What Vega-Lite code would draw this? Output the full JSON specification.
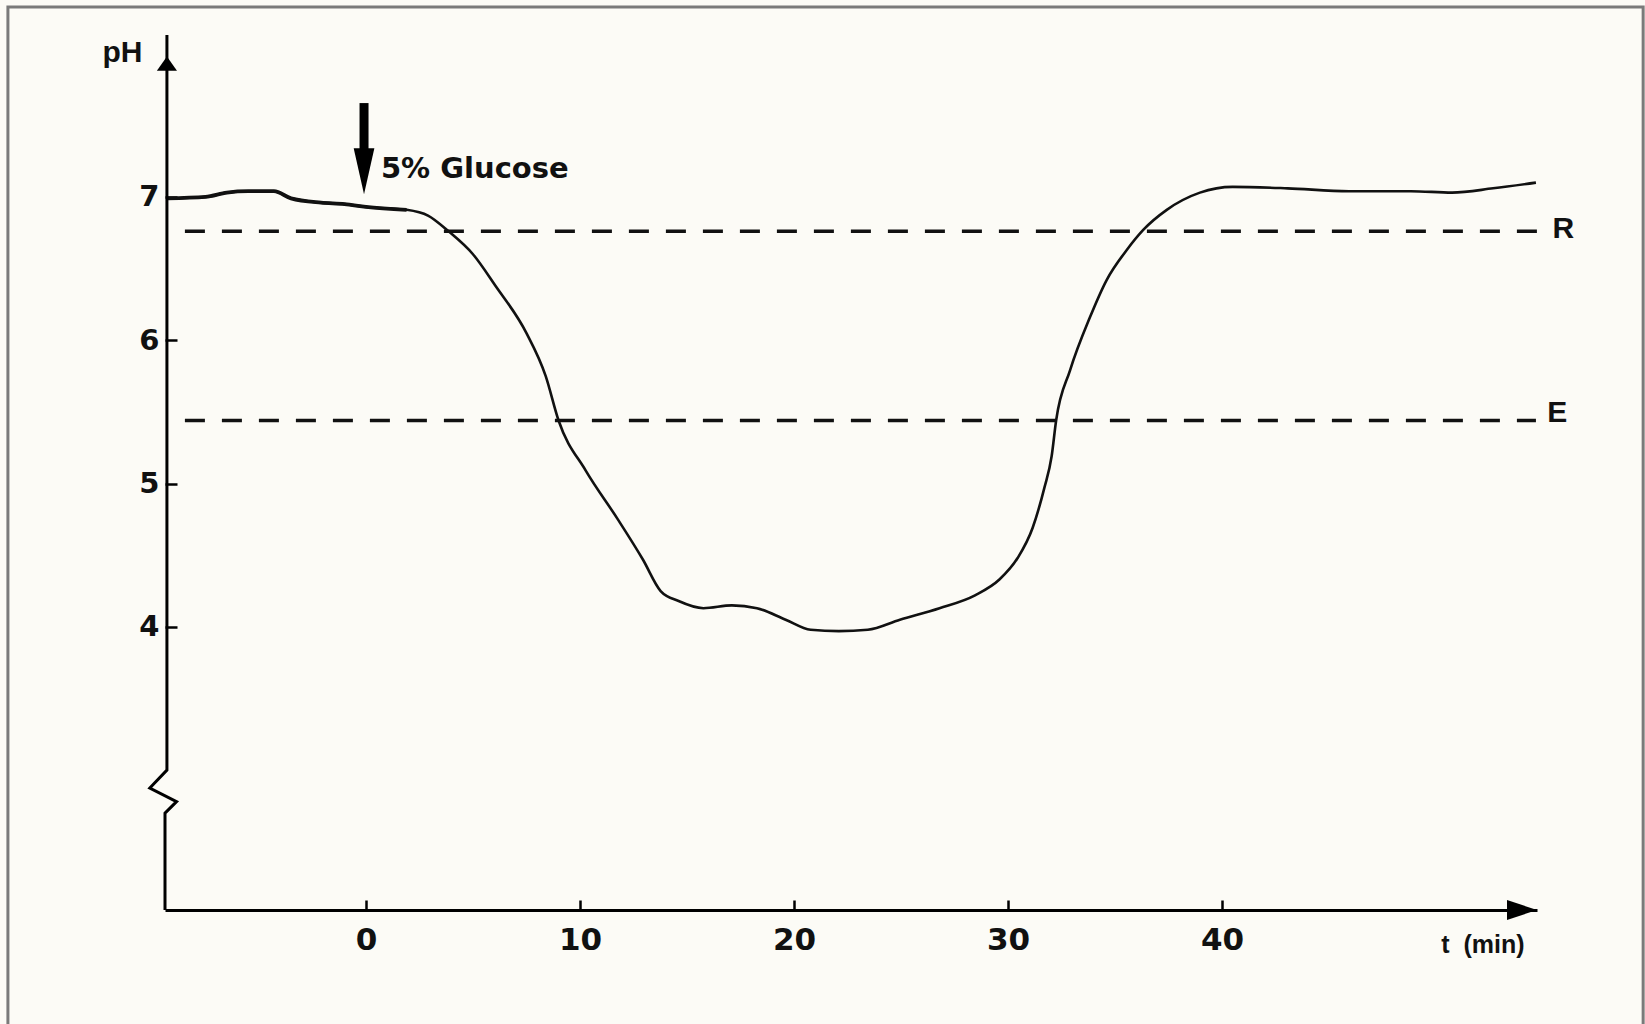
{
  "$schema": "https://vega.github.io/schema/vega-lite/v6.json",
  "width": 1372,
  "height": 875,
  "autosize": "none",
  "padding": {"left": 165, "top": 35, "right": 108, "bottom": 114},
  "background": "#fcfbf6",
  "config": {"view": {"stroke": null}},
  "datasets": {
    "curve": [
      {"t": -9.3, "pH": 6.99}, {"t": -7.5, "pH": 7.0}, {"t": -6.5, "pH": 7.03}, {"t": -5.5, "pH": 7.04},
      {"t": -4.3, "pH": 7.04}, {"t": -3.5, "pH": 6.99}, {"t": -2.1, "pH": 6.96}, {"t": -1.0, "pH": 6.95},
      {"t": 0, "pH": 6.93}, {"t": 1.9, "pH": 6.91}, {"t": 2.9, "pH": 6.87}, {"t": 3.86, "pH": 6.76},
      {"t": 5.0, "pH": 6.6}, {"t": 6.05, "pH": 6.38}, {"t": 7.5, "pH": 6.05}, {"t": 8.4, "pH": 5.75},
      {"t": 9.0, "pH": 5.44}, {"t": 10.27, "pH": 5.09}, {"t": 11.77, "pH": 4.75}, {"t": 12.94, "pH": 4.47},
      {"t": 13.77, "pH": 4.25}, {"t": 14.61, "pH": 4.18}, {"t": 15.77, "pH": 4.13}, {"t": 17.1, "pH": 4.15},
      {"t": 18.27, "pH": 4.13}, {"t": 19.61, "pH": 4.05}, {"t": 20.78, "pH": 3.98}, {"t": 22.1, "pH": 3.97},
      {"t": 23.45, "pH": 3.98}, {"t": 24.95, "pH": 4.05}, {"t": 26.8, "pH": 4.13}, {"t": 28.46, "pH": 4.22},
      {"t": 29.6, "pH": 4.33}, {"t": 30.45, "pH": 4.48}, {"t": 31.15, "pH": 4.69}, {"t": 31.7, "pH": 4.97},
      {"t": 32.04, "pH": 5.19}, {"t": 32.25, "pH": 5.44}, {"t": 32.9, "pH": 5.79}, {"t": 33.83, "pH": 6.16},
      {"t": 34.61, "pH": 6.42}, {"t": 35.55, "pH": 6.63}, {"t": 36.32, "pH": 6.77}, {"t": 37.42, "pH": 6.91},
      {"t": 38.97, "pH": 7.03}, {"t": 40.5, "pH": 7.07}, {"t": 43.07, "pH": 7.06}, {"t": 45.93, "pH": 7.04},
      {"t": 48.83, "pH": 7.04}, {"t": 50.75, "pH": 7.03}, {"t": 52.67, "pH": 7.06}, {"t": 54.67, "pH": 7.1}
    ],
    "yaxis": [
      {"ord": 1, "t": -9.3, "pH": 8.13},
      {"ord": 2, "t": -9.3, "pH": 3.0},
      {"ord": 3, "t": -10.1, "pH": 2.875},
      {"ord": 4, "t": -8.85, "pH": 2.78},
      {"ord": 5, "t": -9.39, "pH": 2.7},
      {"ord": 6, "t": -9.39, "pH": 2.024}
    ],
    "refs": [
      {"name": "R", "t": -8.46, "t2": 54.86, "pH": 6.76},
      {"name": "E", "t": -8.46, "t2": 54.67, "pH": 5.44}
    ],
    "reflabels": [
      {"name": "R", "t": 55.45, "pH": 6.776},
      {"name": "E", "t": 55.2, "pH": 5.49}
    ],
    "heads": [
      {"dir": "up", "t": -9.3, "pH": 7.93},
      {"dir": "right", "t": 54.02, "pH": 2.024}
    ],
    "glucose": [
      {"t": -0.09, "pH": 7.655, "pH2": 7.3, "headpH": 7.18, "label": "5% Glucose", "labelT": 0.7, "labelpH": 7.195}
    ],
    "frame": [
      {"t": -16.73, "t2": 59.68, "pH": 8.325, "pH2": 0.5}
    ]
  },
  "encoding": {
    "x": {
      "field": "t", "type": "quantitative",
      "scale": {"domain": [-9.39, 54.72], "nice": false, "zero": false},
      "axis": {
        "values": [0, 10, 20, 30, 40],
        "grid": false,
        "domain": true, "domainColor": "#000", "domainWidth": 3,
        "ticks": true, "tickSize": -10, "tickColor": "#000", "tickWidth": 2.5,
        "labelPadding": 25, "labelFont": "DejaVu Sans", "labelFontWeight": "bold", "labelFontSize": 31, "labelColor": "#111",
        "title": "t\u00a0\u00a0(min)", "titleFont": "Liberation Sans", "titleFontWeight": "bold", "titleFontSize": 25, "titleColor": "#111",
        "titleX": 1359, "titleY": 34, "titleAlign": "right", "titleBaseline": "middle", "titleAnchor": null
      }
    },
    "y": {
      "field": "pH", "type": "quantitative",
      "scale": {"domain": [2.024, 8.13], "nice": false, "zero": false},
      "axis": {
        "values": [4, 5, 6, 7],
        "grid": false,
        "domain": false,
        "ticks": true, "tickSize": -12, "tickColor": "#000", "tickWidth": 2.5,
        "labelPadding": 18, "labelFont": "DejaVu Sans", "labelFontWeight": "bold", "labelFontSize": 29, "labelColor": "#111",
        "title": "pH", "titleFont": "Liberation Sans", "titleFontWeight": "bold", "titleFontSize": 30, "titleColor": "#111",
        "titleAngle": 0, "titleX": -43, "titleY": 17, "titleAlign": "center", "titleBaseline": "middle", "titleAnchor": null
      }
    }
  },
  "layer": [
    {
      "data": {"name": "frame"},
      "mark": {"type": "rect", "fill": null, "stroke": "#7a7a7a", "strokeWidth": 3},
      "encoding": {"x2": {"field": "t2"}, "y2": {"field": "pH2"}}
    },
    {
      "data": {"name": "refs"},
      "mark": {"type": "rule", "color": "#111", "strokeWidth": 3.5, "strokeDash": [20, 17]},
      "encoding": {"x2": {"field": "t2"}}
    },
    {
      "data": {"name": "curve"},
      "mark": {"type": "line", "color": "#111", "strokeWidth": 2.6, "interpolate": "monotone"}
    },
    {
      "data": {"name": "curve"},
      "transform": [{"filter": "datum.t <= 1.9"}],
      "mark": {"type": "line", "color": "#111", "strokeWidth": 3.8, "interpolate": "monotone"}
    },
    {
      "data": {"name": "yaxis"},
      "mark": {"type": "line", "color": "#000", "strokeWidth": 3, "strokeJoin": "miter"},
      "encoding": {"order": {"field": "ord", "type": "quantitative"}}
    },
    {
      "data": {"name": "heads"},
      "mark": {"type": "point", "filled": true, "color": "#000", "opacity": 1, "size": 900},
      "encoding": {
        "shape": {
          "field": "dir", "type": "nominal", "legend": null,
          "scale": {"domain": ["up", "right"], "range": ["M-0.67,0.47L0.67,0.47L0,-0.47Z", "M-1,-0.67L1,0L-1,0.67Z"]}
        }
      }
    },
    {
      "data": {"name": "glucose"},
      "mark": {"type": "rule", "color": "#000", "strokeWidth": 9},
      "encoding": {"y2": {"field": "pH2"}}
    },
    {
      "data": {"name": "glucose"},
      "mark": {"type": "point", "filled": true, "color": "#000", "opacity": 1, "size": 2116, "shape": "M-0.45,-1L0.45,-1L0,1Z"},
      "encoding": {"y": {"field": "headpH", "type": "quantitative"}}
    },
    {
      "data": {"name": "glucose"},
      "mark": {"type": "text", "align": "left", "baseline": "middle", "font": "DejaVu Sans", "fontWeight": "bold", "fontSize": 29, "color": "#111"},
      "encoding": {
        "x": {"field": "labelT", "type": "quantitative"},
        "y": {"field": "labelpH", "type": "quantitative"},
        "text": {"field": "label"}
      }
    },
    {
      "data": {"name": "reflabels"},
      "mark": {"type": "text", "align": "left", "baseline": "middle", "font": "Liberation Sans Narrow, Liberation Sans", "fontWeight": "bold", "fontSize": 30, "color": "#111"},
      "encoding": {"text": {"field": "name"}}
    }
  ]
}
